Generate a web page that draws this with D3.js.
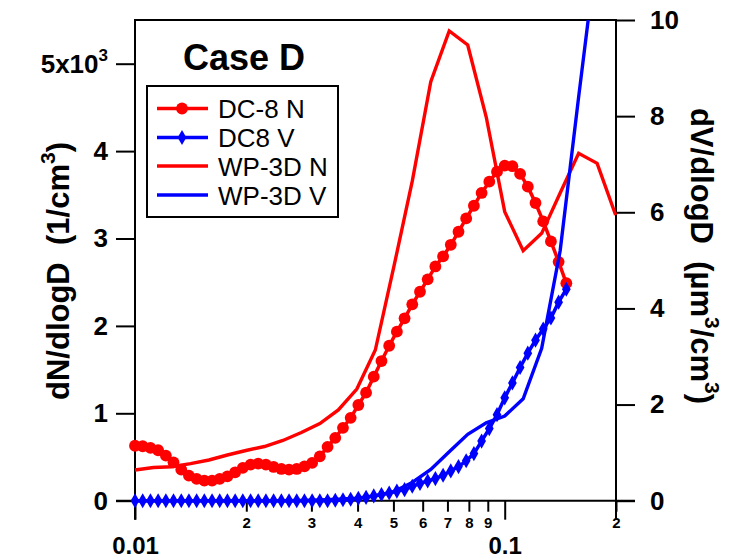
<!DOCTYPE html>
<html><head><meta charset="utf-8">
<script src="https://cdn.jsdelivr.net/npm/d3@7"></script>
<style>
body{margin:0;background:#fff}
svg{display:block}
text{font-family:Arial,"Liberation Sans",Helvetica,sans-serif;fill:#000;white-space:pre}
</style>
</head><body>
<svg id="chart" width="731" height="559"></svg>
<script>
// ---- DC-8 size grid (µm) and data ----
const dc8Diam = [0.01000,0.01049,0.01101,0.01155,0.01212,0.01271,0.01334,0.01399,0.01468,0.01540,
  0.01616,0.01695,0.01778,0.01866,0.01957,0.02054,0.02154,0.02260,0.02371,0.02488,
  0.02610,0.02738,0.02873,0.03014,0.03162,0.03318,0.03481,0.03652,0.03831,0.04019,
  0.04217,0.04424,0.04642,0.04870,0.05109,0.05360,0.05623,0.05900,0.06190,0.06494,
  0.06813,0.07148,0.07499,0.07867,0.08254,0.08660,0.09085,0.09532,0.10000,0.10491,
  0.11007,0.11548,0.12115,0.12710,0.13335,0.13990,0.14678];
const dc8N = [629,623,604,577,516,439,356,287,249,229,
  229,249,279,325,375,413,424,413,386,363,
  356,363,393,432,508,616,719,834,948,1095,
  1236,1419,1598,1773,1934,2087,2247,2391,2533,2680,
  2795,2928,3077,3230,3375,3521,3650,3765,3833,3827,
  3739,3593,3406,3196,2967,2733,2489];
const dc8V = [0,0,0,0,0,0,0,0,0,0,
  0,0,0,0,0,0,0,0,0,0,
  0,0,0,0,0,0,0.01,0.02,0.03,0.05,
  0.07,0.10,0.13,0.16,0.20,0.23,0.30,0.36,0.41,0.46,
  0.53,0.62,0.71,0.83,0.98,1.24,1.50,1.79,2.14,2.45,
  2.77,3.07,3.34,3.57,3.80,4.13,4.40];

// ---- WP-3D size grid (µm) and data ----
const wpDiam = [0.01000,0.01122,0.01259,0.01413,0.01585,0.01778,0.01995,0.02239,0.02512,0.02818,
  0.03162,0.03548,0.03981,0.04467,0.05012,0.05623,0.06310,0.07079,0.07943,0.08913,
  0.10000,0.11220,0.12589,0.14125,0.15849,0.17783,0.19953];
const wpN = [351,380,389,425,466,523,574,620,689,780,
  883,1038,1278,1724,2674,3656,4794,5374,5214,4390,
  3307,2860,3059,3520,3975,3860,3269];
const wpV = [0,0,0,0,0,0,0,0,0,0.005,
  0.015,0.03,0.05,0.10,0.19,0.38,0.65,1.02,1.38,1.62,
  1.76,2.12,3.17,5.2,8.4,11.5];

// ---- ticks ----
const leftTicks = [0,1000,2000,3000,4000,5000];
const leftTickLabels = ["0","1","2","3","4","5x10"];
const rightTicks = [0,2,4,6,8,10];
const xMajorTicks = [0.01,0.1];
const xMajorLabels = ["0.01","0.1"];
const xMinorTicks = [0.02,0.03,0.04,0.05,0.06,0.07,0.08,0.09,0.2];
const xMinorLabels = ["2","3","4","5","6","7","8","9","2"];
const legendLabels = ["DC-8 N","DC8 V","WP-3D N","WP-3D V"];

const RED = "#ff0000", BLUE = "#0000ff";
const L = 135, R = 616, T = 20, B = 500.7;

const svg = d3.select("#chart");
const x = d3.scaleLog().domain([0.01,0.2]).range([L,R]);
const yL = d3.scaleLinear().domain([0,5500]).range([B,T]);
const yR = d3.scaleLinear().domain([0,10]).range([B,T]);

svg.append("defs").append("clipPath").attr("id","plotclip")
  .append("rect").attr("x",L-10).attr("y",T).attr("width",R-L+20).attr("height",B-T+20);

// ---- axes ----
function styleAxis(g, fs){
  g.select(".domain").remove();
  g.selectAll(".tick line").attr("stroke","#000").attr("stroke-width",2);
  g.selectAll(".tick text").attr("font-weight","bold").attr("font-size",fs)
    .attr("font-family","Arial, 'Liberation Sans', sans-serif").attr("fill","#000");
}
const gL = svg.append("g").attr("transform",`translate(${L},0)`)
  .call(d3.axisLeft(yL).tickValues(leftTicks).tickSize(19).tickPadding(8)
    .tickFormat((d,i)=>leftTickLabels[i]));
styleAxis(gL,26);
gL.selectAll(".tick text").filter(d=>d===5000).each(function(){
  const t=d3.select(this); t.text(null);
  t.append("tspan").text("5x10");
  t.append("tspan").attr("dy",-12).attr("font-size",17).text("3");
});

const gR = svg.append("g").attr("transform",`translate(${R},0)`)
  .call(d3.axisRight(yR).tickValues(rightTicks).tickSize(19).tickPadding(15)
    .tickFormat(d3.format("d")));
styleAxis(gR,26);

const gXmaj = svg.append("g").attr("transform",`translate(0,${B})`)
  .call(d3.axisBottom(x).tickValues(xMajorTicks).tickSize(19).tickPadding(17)
    .tickFormat((d,i)=>xMajorLabels[i]));
styleAxis(gXmaj,24);
const gXmin = svg.append("g").attr("transform",`translate(0,${B})`)
  .call(d3.axisBottom(x).tickValues(xMinorTicks).tickSize(11).tickPadding(6)
    .tickFormat((d,i)=>xMinorLabels[i]));
styleAxis(gXmin,15);

// frame lines
const frame = svg.append("g").attr("stroke","#000").attr("stroke-width",2);
frame.append("line").attr("x1",L).attr("x2",L).attr("y1",T-1).attr("y2",B+19);
frame.append("line").attr("x1",R).attr("x2",R).attr("y1",T-1).attr("y2",B+19);
frame.append("line").attr("x1",L-1).attr("x2",R+1).attr("y1",T).attr("y2",T);
frame.append("line").attr("x1",L-19).attr("x2",R+19).attr("y1",B).attr("y2",B);

// ---- series ----
const lineN = d3.line().x(d=>x(d[0])).y(d=>yL(d[1]));
const lineV = d3.line().x(d=>x(d[0])).y(d=>yR(d[1]));
const dc8NData = dc8Diam.map((d,i)=>[d,dc8N[i]]);
const dc8VData = dc8Diam.map((d,i)=>[d,dc8V[i]]);
const wpNData = wpDiam.map((d,i)=>[d,wpN[i]]);
const wpVData = wpV.map((v,i)=>[wpDiam[i],v]);

const plot = svg.append("g");
// DC-8 N
plot.append("path").datum(dc8NData).attr("d",lineN).attr("fill","none")
  .attr("stroke",RED).attr("stroke-width",3.5);
plot.append("g").selectAll("circle").data(dc8NData).join("circle")
  .attr("cx",d=>x(d[0])).attr("cy",d=>yL(d[1])).attr("r",5.9).attr("fill",RED);
// DC8 V
plot.append("path").datum(dc8VData).attr("d",lineV).attr("fill","none")
  .attr("stroke",BLUE).attr("stroke-width",3.5);
const diamond = d3.symbol().type(d3.symbolDiamond).size(66);
plot.append("g").selectAll("path").data(dc8VData).join("path")
  .attr("d",diamond).attr("transform",d=>`translate(${x(d[0])},${yR(d[1])})`)
  .attr("fill",BLUE);
// WP-3D N
plot.append("path").datum(wpNData).attr("d",lineN).attr("fill","none")
  .attr("stroke",RED).attr("stroke-width",3.4).attr("stroke-linejoin","miter");
// WP-3D V
plot.append("path").datum(wpVData).attr("d",lineV).attr("fill","none")
  .attr("stroke",BLUE).attr("stroke-width",3.4).attr("clip-path","url(#plotclip)");

// ---- axis titles ----
const tL = svg.append("text").attr("transform","translate(58,271) rotate(-90)")
  .attr("text-anchor","middle").attr("dy","0.35em")
  .attr("font-weight","bold").attr("font-size",31);
tL.append("tspan").text("dN/dlogD  (1/cm");
tL.append("tspan").attr("dy",-14).attr("font-size",21).text("3");
tL.append("tspan").attr("dy",14).text(")");

const tR = svg.append("text").attr("transform","translate(702,256) rotate(90)")
  .attr("text-anchor","middle").attr("dy","0.35em")
  .attr("font-weight","bold").attr("font-size",31);
tR.append("tspan").text("dV/dlogD  (µm");
tR.append("tspan").attr("dy",-14).attr("font-size",21).text("3");
tR.append("tspan").attr("dy",14).text("/cm");
tR.append("tspan").attr("dy",-14).attr("font-size",21).text("3");
tR.append("tspan").attr("dy",14).text(")");

// ---- title ----
svg.append("text").attr("x",244).attr("y",70).attr("text-anchor","middle")
  .attr("font-weight","bold").attr("font-size",36).text("Case D");

// ---- legend ----
const leg = svg.append("g");
leg.append("rect").attr("x",147).attr("y",86).attr("width",191).attr("height",131)
  .attr("fill","#fff").attr("stroke","#000").attr("stroke-width",2);
const rowsY = [108.5,137.5,166,195];
const legColors = [RED,BLUE,RED,BLUE];
legendLabels.forEach((lab,i)=>{
  const g = leg.append("g").attr("transform",`translate(0,${rowsY[i]})`);
  g.append("line").attr("x1",157).attr("x2",208).attr("y1",0).attr("y2",0)
    .attr("stroke",legColors[i]).attr("stroke-width",3.5);
  if(i===0) g.append("circle").attr("cx",182).attr("cy",0).attr("r",5.9).attr("fill",RED);
  if(i===1) g.append("path").attr("d",diamond).attr("transform","translate(182,0)").attr("fill",BLUE);
  g.append("text").attr("x",218).attr("y",9.5).attr("font-size",26).text(lab);
});
</script>
</body></html>
